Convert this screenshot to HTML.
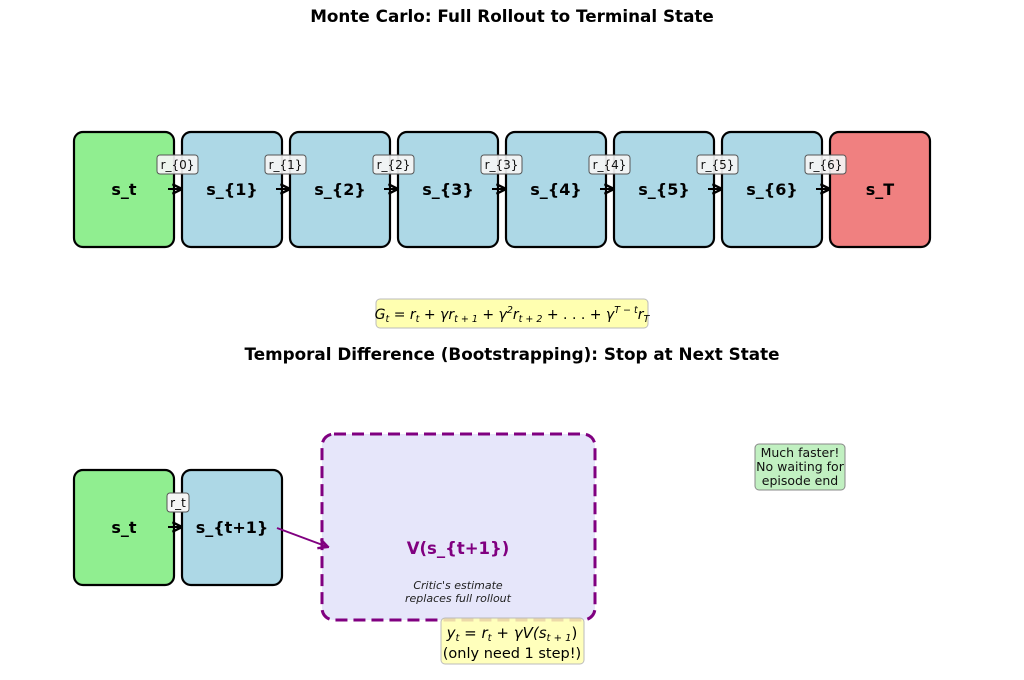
<!DOCTYPE html>
<html><head><meta charset="utf-8"><style>
html,body{margin:0;padding:0;background:#fff}
svg{display:block}
text{font-family:"DejaVu Sans","Liberation Sans",sans-serif}
.b{font-weight:bold}
</style></head><body>
<svg width="1024" height="680" viewBox="0 0 1024 680" xmlns="http://www.w3.org/2000/svg">
<defs>
<marker id="ah" viewBox="0 0 10 10" refX="9" refY="5" markerWidth="6" markerHeight="6" orient="auto"><path d="M1,1 L9,5 L1,9" fill="none" stroke="#000" stroke-width="2"/></marker>
<marker id="ahp" viewBox="0 0 10 10" refX="9" refY="5" markerWidth="6" markerHeight="6" orient="auto"><path d="M1,1 L9,5 L1,9" fill="none" stroke="#800080" stroke-width="2"/></marker>
</defs>
<text x="512" y="22" text-anchor="middle" class="b" font-size="16.8">Monte Carlo: Full Rollout to Terminal State</text>

<g stroke="#000" stroke-width="2.2">
<rect x="74" y="132" width="100" height="115" rx="9" fill="#90ee90"/>
<rect x="182" y="132" width="100" height="115" rx="9" fill="#add8e6"/>
<rect x="290" y="132" width="100" height="115" rx="9" fill="#add8e6"/>
<rect x="398" y="132" width="100" height="115" rx="9" fill="#add8e6"/>
<rect x="506" y="132" width="100" height="115" rx="9" fill="#add8e6"/>
<rect x="614" y="132" width="100" height="115" rx="9" fill="#add8e6"/>
<rect x="722" y="132" width="100" height="115" rx="9" fill="#add8e6"/>
<rect x="830" y="132" width="100" height="115" rx="9" fill="#f08080"/>
</g>
<g font-size="16" class="b" text-anchor="middle">
<text x="124" y="195">s_t</text><text x="232" y="195">s_{1}</text><text x="340" y="195">s_{2}</text>
<text x="448" y="195">s_{3}</text><text x="556" y="195">s_{4}</text><text x="664" y="195">s_{5}</text>
<text x="772" y="195">s_{6}</text><text x="880" y="195">s_T</text>
</g>
<g stroke="#000" stroke-width="2" marker-end="url(#ah)">
<line x1="168" y1="189" x2="182" y2="189"/><line x1="276" y1="189" x2="290" y2="189"/>
<line x1="384" y1="189" x2="398" y2="189"/><line x1="492" y1="189" x2="506" y2="189"/>
<line x1="600" y1="189" x2="614" y2="189"/><line x1="708" y1="189" x2="722" y2="189"/>
<line x1="816" y1="189" x2="830" y2="189"/>
</g>
<g fill="#f5f5f5" fill-opacity="0.92" stroke="#555" stroke-width="1">
<rect x="157" y="155" width="41" height="19" rx="3"/><rect x="265" y="155" width="41" height="19" rx="3"/>
<rect x="373" y="155" width="41" height="19" rx="3"/><rect x="481" y="155" width="41" height="19" rx="3"/>
<rect x="589" y="155" width="41" height="19" rx="3"/><rect x="697" y="155" width="41" height="19" rx="3"/>
<rect x="805" y="155" width="41" height="19" rx="3"/>
</g>
<g font-size="12" text-anchor="middle" fill="#111">
<text x="177.5" y="169">r_{0}</text><text x="285.5" y="169">r_{1}</text><text x="393.5" y="169">r_{2}</text>
<text x="501.5" y="169">r_{3}</text><text x="609.5" y="169">r_{4}</text><text x="717.5" y="169">r_{5}</text>
<text x="825.5" y="169">r_{6}</text>
</g>

<rect x="376" y="299" width="272" height="29" rx="4" fill="#ffffb0" stroke="#bbb"/>
<text x="512" y="319" text-anchor="middle" font-size="14" font-style="italic" fill="#000">G<tspan font-size="9.5" dy="3">t</tspan><tspan dy="-3" font-style="normal"> = </tspan>r<tspan font-size="9.5" dy="3">t</tspan><tspan dy="-3" font-style="normal"> + </tspan>γr<tspan font-size="9.5" dy="3">t + 1</tspan><tspan dy="-3" font-style="normal"> + </tspan>γ<tspan font-size="9.5" dy="-6">2</tspan><tspan dy="6">r</tspan><tspan font-size="9.5" dy="3">t + 2</tspan><tspan dy="-3" font-style="normal"> + . . . + </tspan>γ<tspan font-size="9.5" dy="-6">T − t</tspan><tspan dy="6">r</tspan><tspan font-size="9.5" dy="3">T</tspan></text>

<text x="512" y="360" text-anchor="middle" class="b" font-size="16.8">Temporal Difference (Bootstrapping): Stop at Next State</text>

<g stroke="#000" stroke-width="2.2">
<rect x="74" y="470" width="100" height="115" rx="9" fill="#90ee90"/>
<rect x="182" y="470" width="100" height="115" rx="9" fill="#add8e6"/>
</g>
<text x="124" y="533" text-anchor="middle" class="b" font-size="16">s_t</text>
<text x="232" y="533" text-anchor="middle" class="b" font-size="16">s_{t+1}</text>
<line x1="168" y1="527" x2="182" y2="527" stroke="#000" stroke-width="2" marker-end="url(#ah)"/>
<rect x="167" y="493" width="22" height="19" rx="3" fill="#f5f5f5" stroke="#555"/>
<text x="178" y="507" text-anchor="middle" font-size="12">r_t</text>

<rect x="322" y="434" width="273" height="186" rx="12" fill="#e6e6fa" stroke="#800080" stroke-width="3" stroke-dasharray="12,6"/>
<line x1="277" y1="528" x2="328" y2="547" stroke="#800080" stroke-width="2" marker-end="url(#ahp)"/>
<text x="458" y="554" text-anchor="middle" class="b" font-size="16.5" fill="#800080">V(s_{t+1})</text>
<text x="458" y="589" text-anchor="middle" font-size="11" font-style="italic" fill="#222">Critic's estimate</text>
<text x="458" y="602" text-anchor="middle" font-size="11" font-style="italic" fill="#222">replaces full rollout</text>

<rect x="441" y="618" width="143" height="46" rx="4" fill="#ffffb0" fill-opacity="0.85" stroke="#bbb"/>
<text x="512" y="638" text-anchor="middle" font-size="15" font-style="italic">y<tspan font-size="10" dy="3">t</tspan><tspan dy="-3" font-style="normal"> = </tspan>r<tspan font-size="10" dy="3">t</tspan><tspan dy="-3" font-style="normal"> + </tspan>γV(s<tspan font-size="10" dy="3">t + 1</tspan><tspan dy="-3" font-style="normal">)</tspan></text>
<text x="512" y="658" text-anchor="middle" font-size="14.5">(only need 1 step!)</text>

<rect x="755" y="444" width="90" height="46" rx="4" fill="#c1f0c1" stroke="#888"/>
<g font-size="12.5" text-anchor="middle" fill="#111">
<text x="800" y="457">Much faster!</text><text x="800" y="471">No waiting for</text><text x="800" y="485">episode end</text>
</g>
</svg>
</body></html>
